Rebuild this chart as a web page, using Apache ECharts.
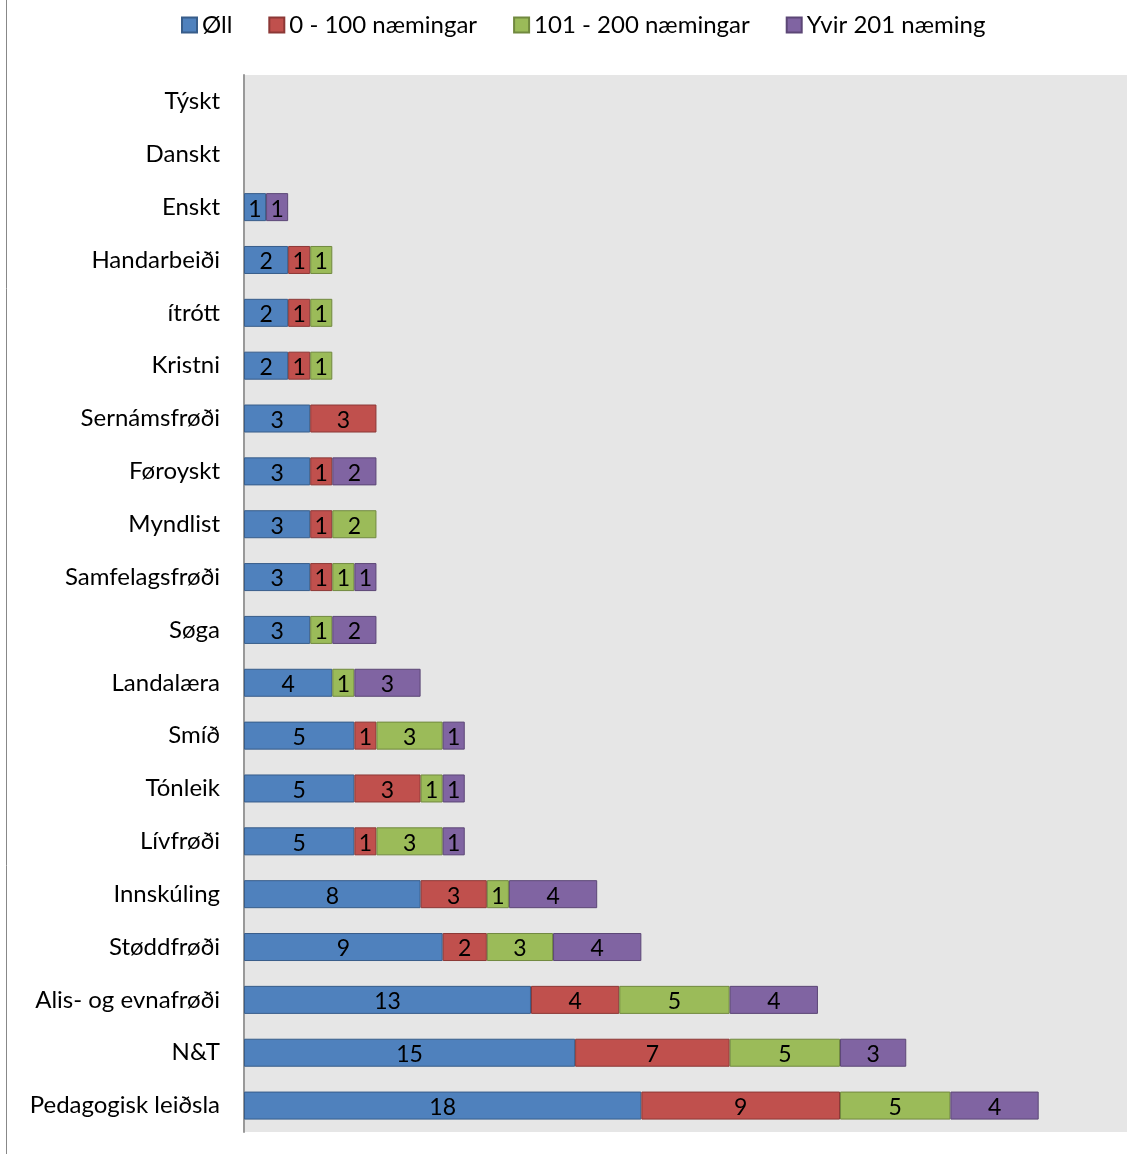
<!DOCTYPE html>
<html lang="fo">
<head>
    <meta charset="UTF-8">
    <title>Lærugreinir</title>
    <style>
        body, html {
            margin: 0;
            height: 100%;
            width: 100%;
            background: #fff;
        }
    </style>
</head>
<body>
<div id="main" style="height: 1154px; width: 1147px;"></div>
<script src="https://cdn.jsdelivr.net/npm/echarts@6/dist/echarts.min.js"></script>
<script>
    // lærugreinir, ovast til niðast
    var subjects = ['Týskt', 'Danskt', 'Enskt', 'Handarbeiði', 'ítrótt', 'Kristni', 'Sernámsfrøði',
        'Føroyskt', 'Myndlist', 'Samfelagsfrøði', 'Søga', 'Landalæra', 'Smíð', 'Tónleik', 'Lívfrøði',
        'Innskúling', 'Støddfrøði', 'Alis- og evnafrøði', 'N&T', 'Pedagogisk leiðsla'];

    var seriesNames = ['Øll', '0 - 100 næmingar', '101 - 200 næmingar', 'Yvir 201 næming'];

    var oll      = [0, 0, 1, 2, 2, 2, 3, 3, 3, 3, 3, 4, 5, 5, 5, 8, 9, 13, 15, 18];
    var small    = [0, 0, 0, 1, 1, 1, 3, 1, 1, 1, 0, 0, 1, 3, 1, 3, 2, 4, 7, 9];
    var medium   = [0, 0, 0, 1, 1, 1, 0, 0, 2, 1, 1, 1, 3, 1, 3, 1, 3, 5, 5, 5];
    var large    = [0, 0, 1, 0, 0, 0, 0, 2, 0, 1, 2, 3, 1, 1, 1, 4, 4, 4, 3, 4];

    var colors  = ['#4f81bd', '#c0504d', '#9bbb59', '#8064a2'];
    var borders = ['#385d8a', '#8c3836', '#71893f', '#5c4776'];

    var font = 'Lato, "Open Sans", sans-serif';

    var myChart = echarts.init(document.getElementById('main'));

    var series = [oll, small, medium, large].map(function (vals, i) {
        return {
            name: seriesNames[i],
            type: 'bar',
            stack: 'total',
            barWidth: '53%',
            itemStyle: {
                color: colors[i],
                borderColor: borders[i],
                borderWidth: 1
            },
            label: {
                show: true,
                position: 'inside',
                color: '#000',
                fontFamily: font,
                fontSize: 23,
                offset: [0, 2],
                formatter: function (p) { return p.value ? p.value : ''; }
            },
            data: vals.map(function (v) { return v === 0 ? null : v; })
        };
    });

    myChart.setOption({
        backgroundColor: '#fff',
        animation: false,
        color: colors,
        legend: {
            top: 8,
            left: 176,
            itemWidth: 15,
            itemHeight: 15,
            itemGap: 36,
            icon: 'rect',
            textStyle: { fontFamily: font, fontSize: 24, color: '#000' },
            data: seriesNames
        },
        graphic: [{
            type: 'line',
            shape: { x1: 6.5, y1: 0, x2: 6.5, y2: 1154 },
            style: { stroke: '#888', lineWidth: 1 }
        }],
        grid: {
            left: 244,
            right: 20,
            top: 75,
            bottom: 22,
            show: true,
            backgroundColor: '#e6e6e6',
            borderWidth: 0
        },
        xAxis: {
            type: 'value',
            min: 0,
            max: 40,
            axisLabel: { show: false },
            axisLine: { show: false },
            axisTick: { show: false },
            splitLine: { show: false }
        },
        yAxis: {
            type: 'category',
            inverse: true,
            data: subjects,
            axisLine: { show: true, lineStyle: { color: '#999', width: 2 } },
            axisTick: { show: false },
            axisLabel: {
                fontFamily: font,
                fontSize: 24,
                color: '#000',
                margin: 24
            }
        },
        series: series
    });
</script>
</body>
</html>
